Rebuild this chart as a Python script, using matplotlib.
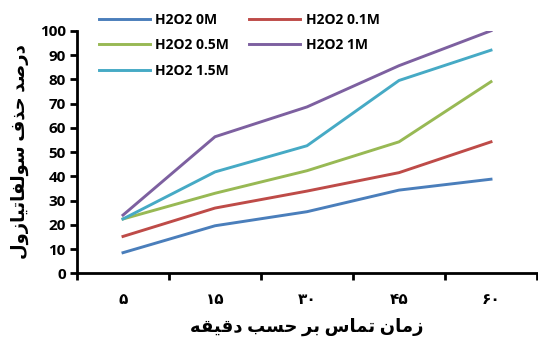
import matplotlib
matplotlib.use('Agg')
import matplotlib.pyplot as plt
from matplotlib.ticker import FixedLocator

# Joining forms: isolated, final, initial, medial (None when the letter does not join forward)
FORMS = {
    '\u0627': ('\uFE8D', '\uFE8E', None, None),
    '\u0628': ('\uFE8F', '\uFE90', '\uFE91', '\uFE92'),
    '\u062A': ('\uFE95', '\uFE96', '\uFE97', '\uFE98'),
    '\u062D': ('\uFEA1', '\uFEA2', '\uFEA3', '\uFEA4'),
    '\u062F': ('\uFEA9', '\uFEAA', None, None),
    '\u0630': ('\uFEAB', '\uFEAC', None, None),
    '\u0631': ('\uFEAD', '\uFEAE', None, None),
    '\u0632': ('\uFEAF', '\uFEB0', None, None),
    '\u0633': ('\uFEB1', '\uFEB2', '\uFEB3', '\uFEB4'),
    '\u0635': ('\uFEB9', '\uFEBA', '\uFEBB', '\uFEBC'),
    '\u0641': ('\uFED1', '\uFED2', '\uFED3', '\uFED4'),
    '\u0642': ('\uFED5', '\uFED6', '\uFED7', '\uFED8'),
    '\u0644': ('\uFEDD', '\uFEDE', '\uFEDF', '\uFEE0'),
    '\u0645': ('\uFEE1', '\uFEE2', '\uFEE3', '\uFEE4'),
    '\u0646': ('\uFEE5', '\uFEE6', '\uFEE7', '\uFEE8'),
    '\u0647': ('\uFEE9', '\uFEEA', '\uFEEB', '\uFEEC'),
    '\u0648': ('\uFEED', '\uFEEE', None, None),
    '\u06CC': ('\uFBFC', '\uFBFD', '\uFEF3', '\uFEF4'),
}


def shape(text):
    out = []
    for i, ch in enumerate(text):
        if ch not in FORMS:
            out.append(ch)
            continue
        prev = text[i - 1] if i > 0 else ''
        nxt = text[i + 1] if i + 1 < len(text) else ''
        joins_prev = prev in FORMS and FORMS[prev][2] is not None
        joins_next = nxt in FORMS and FORMS[ch][2] is not None
        iso, fin, ini, med = FORMS[ch]
        if joins_prev and joins_next:
            out.append(med)
        elif joins_prev:
            out.append(fin)
        elif joins_next:
            out.append(ini)
        else:
            out.append(iso)
    return ''.join(out)[::-1]


times = ['۵', '۱۵', '۳۰', '۴۵', '۶۰']
h2o2_0 = [8.5, 19.6, 25.4, 34.3, 38.8]
h2o2_01 = [15.2, 26.9, 33.9, 41.5, 54.2]
h2o2_05 = [22.4, 33.0, 42.3, 54.2, 79.0]
h2o2_1 = [24.0, 56.3, 68.6, 85.6, 100.0]
h2o2_15 = [22.4, 41.8, 52.6, 79.5, 92.0]

labels = ['H2O2 0M', 'H2O2 0.1M', 'H2O2 0.5M', 'H2O2 1M', 'H2O2 1.5M']
colors = ['#4A7EBB', '#BE4B48', '#98B954', '#7D60A0', '#46AAC5']
series = [h2o2_0, h2o2_01, h2o2_05, h2o2_1, h2o2_15]

plt.rcParams['font.family'] = ['Open Sans', 'DejaVu Sans']
plt.rcParams['font.weight'] = 'bold'

fig = plt.figure(figsize=(5.38, 3.38), dpi=100)
ax = fig.add_axes([77 / 538, 0.1914, (537 - 77) / 538, 0.909 - 0.1914])

x = list(range(len(times)))
lines = []
for vals, col, lab in zip(series, colors, labels):
    ln, = ax.plot(x, vals, color=col, linewidth=2.1, label=lab)
    lines.append(ln)

ax.set_xlim(-0.5, len(times) - 0.5)
ax.set_ylim(0, 100)
ax.set_yticks(range(0, 101, 10))
ax.set_xticks(x)
ax.set_xticklabels(times, fontsize=11, fontweight='bold')
ax.xaxis.set_minor_locator(FixedLocator([i - 0.5 for i in range(len(times) + 1)]))
ax.tick_params(axis='x', which='major', length=0, pad=14)
ax.tick_params(axis='x', which='minor', length=5, width=2, direction='out')
ax.tick_params(axis='y', length=5, width=2, direction='out', labelsize=11, pad=3)
for t in ax.get_yticklabels():
    t.set_fontweight('bold')

for side in ['top', 'right']:
    ax.spines[side].set_visible(False)
for side in ['left', 'bottom']:
    ax.spines[side].set_linewidth(2)

ax.set_xlabel(shape('زمان تماس بر حسب دقیقه'), fontsize=13, fontweight='bold', labelpad=8)
ax.set_ylabel(shape('درصد حذف سولفاتیازول'), fontsize=13, fontweight='bold', labelpad=8)

order = [0, 2, 4, 1, 3]
fig.legend([lines[i] for i in order], [labels[i] for i in order], ncol=2,
           loc='upper left', bbox_to_anchor=(86 / 538, 1.0), frameon=False,
           handlelength=3.7, columnspacing=1.4, labelspacing=0.85,
           handletextpad=0.4, prop={'weight': 'bold', 'size': 10})

fig.savefig('out.png', dpi=100)
